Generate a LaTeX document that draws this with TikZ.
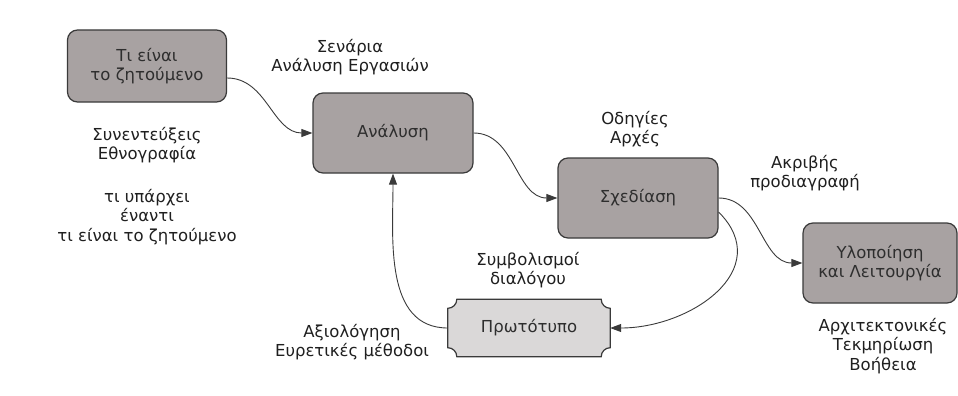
\documentclass[tikz,border=0pt]{standalone}
\usepackage{fontspec}
\setmainfont{DejaVu Sans}
\usetikzlibrary{arrows.meta,backgrounds}
\definecolor{boxgray}{HTML}{A8A2A2}
\definecolor{protogray}{HTML}{DAD8D8}
\definecolor{edgegray}{HTML}{3A3A3A}
\definecolor{txtgray}{HTML}{2E2E2E}

\begin{document}
\begin{tikzpicture}[x=1pt,y=1pt,
  stage/.style={draw=edgegray, line width=1.2pt, fill=boxgray, rounded corners=10pt,
    text=txtgray, align=center, inner sep=0pt, font=\fontsize{16.5}{19}\selectfont},
  note/.style={align=center, text=black!88, font=\fontsize{16.5}{19.5}\selectfont},
  flow/.style={draw=edgegray, line width=0.9pt, -{Triangle[length=11pt,width=8pt]}},
]
\useasboundingbox (0,0) rectangle (958,-396);

% stages
\node[stage, minimum width=159pt, minimum height=72pt] (what) at (147,-66) {Τι είναι\\το ζητούμενο};
\node[stage, minimum width=160pt, minimum height=80pt] (anal) at (393,-133) {Ανάλυση};
\node[stage, minimum width=160pt, minimum height=80pt] (design) at (638,-198) {Σχεδίαση};
\node[stage, minimum width=154pt, minimum height=80pt] (impl) at (880,-263) {Υλοποίηση\\και Λειτουργία};
\node[note, text=txtgray, minimum width=162pt, minimum height=57pt, inner sep=0pt] (proto) at (529,-328) {Πρωτότυπο};

% prototype outline, concave corners
\begin{pgfonlayer}{background}
\path[draw=edgegray, line width=1.2pt, fill=protogray]
  ([xshift=9pt]proto.north west) -- ([xshift=-9pt]proto.north east)
  arc[start angle=180, end angle=270, radius=9pt]
  -- ([yshift=9pt]proto.south east)
  arc[start angle=90, end angle=180, radius=9pt]
  -- ([xshift=9pt]proto.south west)
  arc[start angle=0, end angle=90, radius=9pt]
  -- ([yshift=-9pt]proto.north west)
  arc[start angle=270, end angle=360, radius=9pt] -- cycle;
\end{pgfonlayer}

% notes
\node[note] (scen) at (350,-57) {Σενάρια\\Ανάλυση Εργασιών};
\node[note] (interv) at (147,-145) {Συνεντεύξεις\\Εθνογραφία};
\node[note] (exist) at (147,-217) {τι υπάρχει\\έναντι\\τι είναι το ζητούμενο};
\node[note] (guide) at (635,-129) {Οδηγίες\\Αρχές};
\node[note] (spec) at (805,-173) {Ακριβής\\προδιαγραφή};
\node[note] (arch) at (883,-346) {Αρχιτεκτονικές\\Τεκμηρίωση\\Βοήθεια};
\node[note] (symb) at (528,-270) {Συμβολισμοί\\διαλόγου};
\node[note] (eval) at (352,-342) {Αξιολόγηση\\Ευρετικές μέθοδοι};

% connectors
\draw[flow] ([yshift=-12pt]what.east) to[out=0, in=180] (anal.west);
\draw[flow] (anal.east) to[out=0, in=180] (design.west);
\draw[flow] (design.east) to[out=0, in=180] (impl.west);
\draw[flow] ([yshift=-14pt]design.east) to[out=-45, in=0, looseness=1.3] (proto.east);
\draw[flow] (proto.west) to[out=180, in=-90] (anal.south);

\end{tikzpicture}
\end{document}
